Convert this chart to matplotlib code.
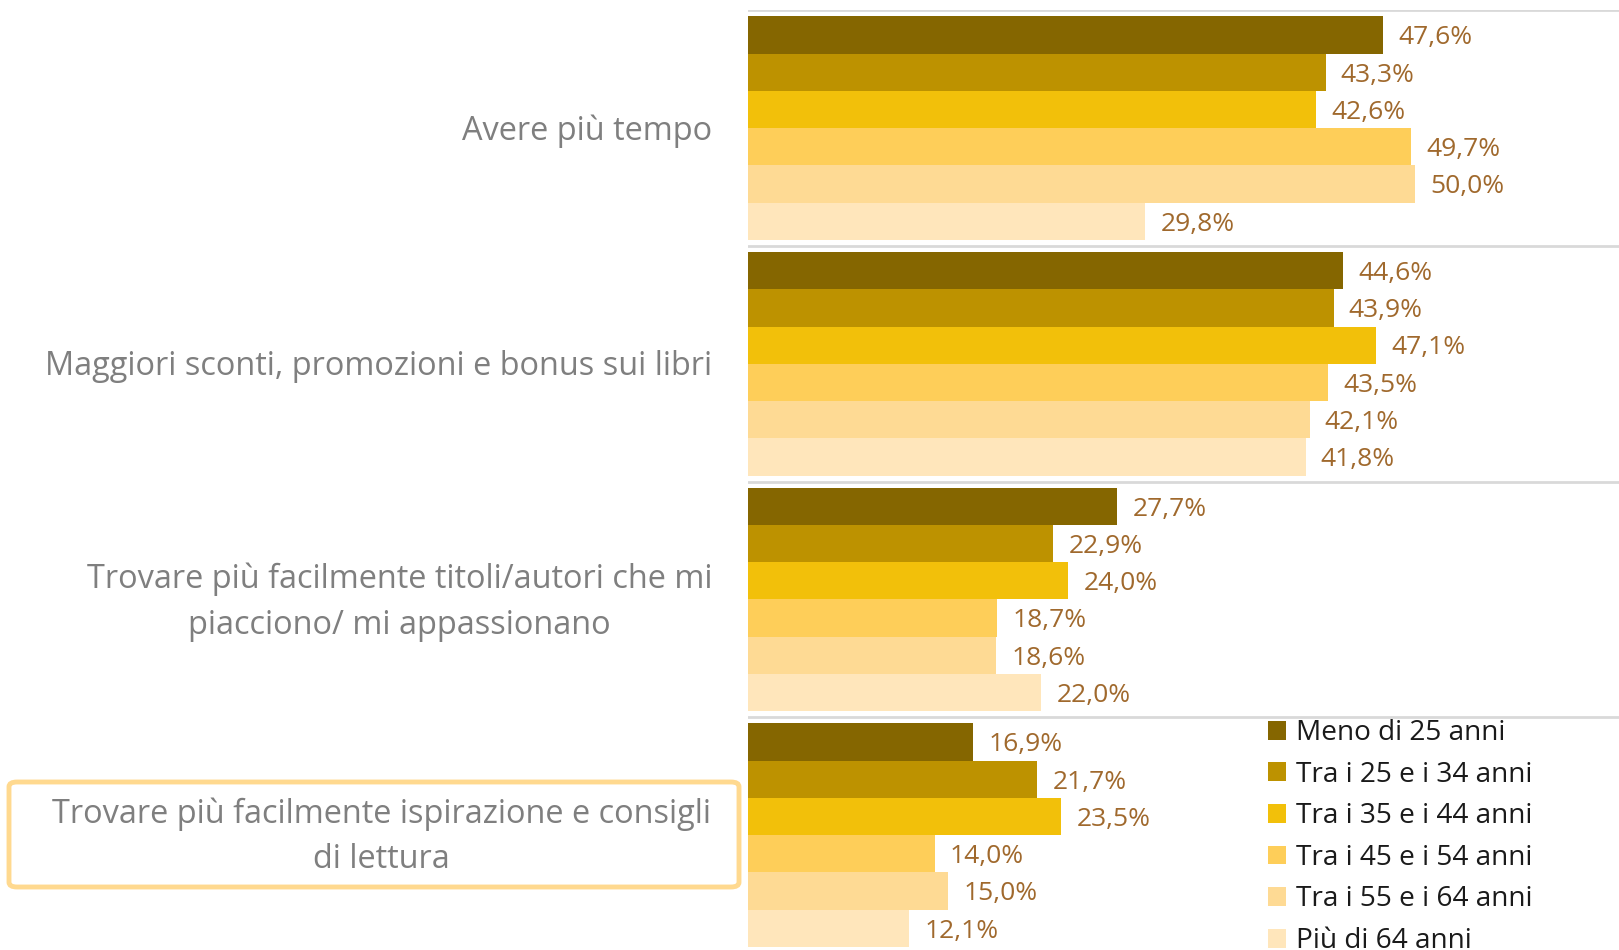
import matplotlib.pyplot as plt
from matplotlib.patches import FancyBboxPatch
import numpy as np

plt.rcParams['font.family'] = ['Open Sans', 'DejaVu Sans']

categories = [
    "Avere più tempo",
    "Maggiori sconti, promozioni e bonus sui libri",
    "Trovare più facilmente titoli/autori che mi\npiacciono/ mi appassionano",
    "Trovare più facilmente ispirazione e consigli\ndi lettura",
]
series_names = [
    "Meno di 25 anni",
    "Tra i 25 e i 34 anni",
    "Tra i 35 e i 44 anni",
    "Tra i 45 e i 54 anni",
    "Tra i 55 e i 64 anni",
    "Più di 64 anni",
]
meno25 = [47.6, 44.6, 27.7, 16.9]
tra25_34 = [43.3, 43.9, 22.9, 21.7]
tra35_44 = [42.6, 47.1, 24.0, 23.5]
tra45_54 = [49.7, 43.5, 18.7, 14.0]
tra55_64 = [50.0, 42.1, 18.6, 15.0]
piu64 = [29.8, 41.8, 22.0, 12.1]

colors = ["#856600", "#BD9200", "#F2C00A", "#FECE59", "#FEDA94", "#FFE6BB"]
label_color = "#A0692D"


def main():
    fig = plt.figure(figsize=(16.19, 9.5), dpi=100)
    ax = fig.add_axes([748 / 1619, 0, 1 - 748 / 1619, 1 - 10.3 / 950])

    data = [meno25, tra25_34, tra35_44, tra45_54, tra55_64, piu64]
    y = np.arange(len(categories))
    h = 0.158
    for j, vals in enumerate(data):
        pos = y - 0.474 + h / 2 + j * h
        ax.barh(pos, vals, height=h, color=colors[j], label=series_names[j])
        for v, p in zip(vals, pos):
            ax.annotate(f"{v:.1f}%".replace(".", ","), (v, p), xytext=(11, -2),
                        textcoords="offset points", ha="left", va="center",
                        color=label_color, fontsize=19)

    for s in [-0.5, 0.5, 1.5, 2.5, 3.5]:
        ax.axhline(s, color="#d9d9d9", lw=2, zorder=0)

    ax.set_xlim(0, 65.3)
    ax.set_ylim(3.5 - 3 / 235.5, -0.5)
    ax.axis("off")

    # category labels
    for i, c in enumerate(categories[:3]):
        ax.text(-0.041, i + 0.012, c, transform=ax.get_yaxis_transform(), ha="right",
                va="center", multialignment="center", fontsize=23.4,
                color="#7f7f7f", linespacing=1.5)
    ax.text(381 / 1619, 1 - 837 / 950, categories[3], transform=fig.transFigure,
            ha="center", va="center", multialignment="center", fontsize=23.4,
            color="#7f7f7f", linespacing=1.5)
    box = FancyBboxPatch((9 / 1619, 1 - 887 / 950), (739 - 9) / 1619, 105 / 950,
                         boxstyle="round,pad=0,rounding_size=0.005",
                         transform=fig.transFigure, fill=False,
                         edgecolor="#FFD98F", lw=3.5)
    fig.patches.append(box)

    leg = fig.legend(loc="upper left", bbox_to_anchor=(1268 / 1619, 1 - 719 / 950),
                     frameon=False, fontsize=20.2, handlelength=0.65, handleheight=0.65,
                     handletextpad=0.35, labelspacing=0.485, borderaxespad=0,
                     borderpad=0)
    for t in leg.get_texts():
        t.set_color("#1a1a1a")

    fig.savefig("out.png", dpi=100)


if __name__ == "__main__":
    main()
